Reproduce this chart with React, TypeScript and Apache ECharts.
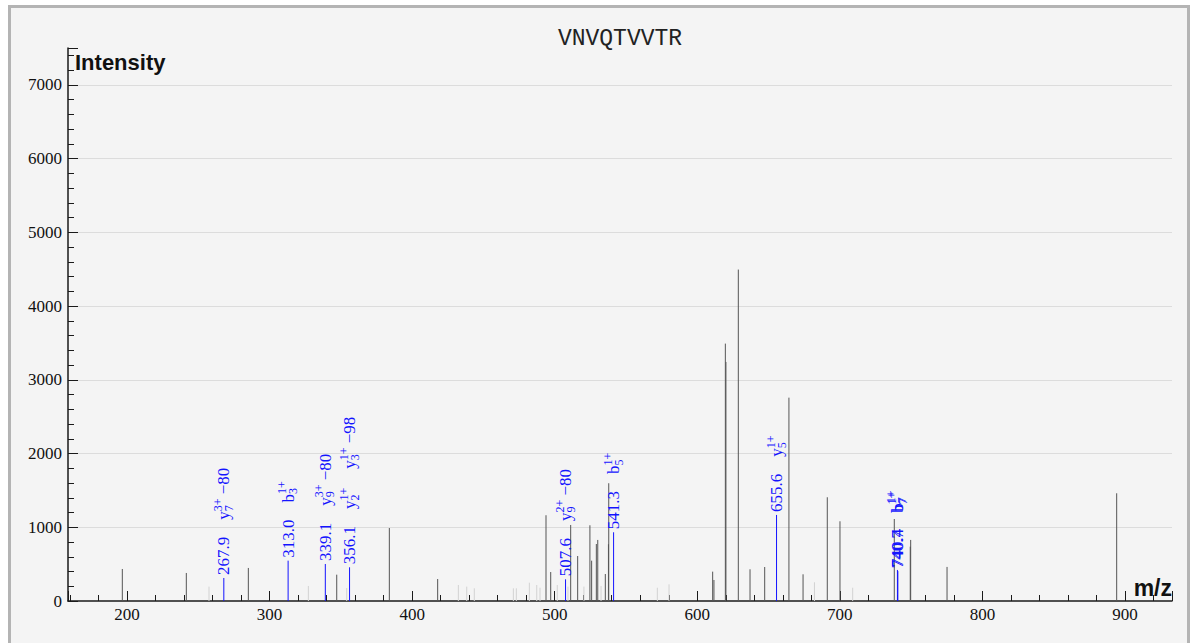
import React, { useEffect, useRef } from "react";
import * as echarts from "echarts";

const peptide = "VNVQTVVTR";
const yAxisName = "Intensity";
const xAxisName = "m/z";

// unannotated peaks (dark grey)
const peakMz = [196.7, 241.6, 285.1, 347.1, 384.0, 417.9, 493.9, 497.2, 511.2, 516.1, 524.7, 525.9, 529.2, 530.2, 535.5, 537.7, 537.9, 610.8, 611.7, 619.7, 620.1, 628.8, 637.0, 647.3, 664.3, 674.2, 691.2, 700.1, 738.2, 749.4, 749.7, 775.2, 894.2];
const peakInt = [434, 380, 448, 357, 990, 298, 1163, 393, 1031, 610, 1027, 547, 773, 828, 366, 770, 1597, 398, 285, 3491, 3242, 4495, 430, 461, 2758, 362, 1407, 1081, 1112, 737, 828, 462, 1461];

// faint peaks (light grey)
const faintMz = [257.5, 327.2, 354.1, 432.4, 438.3, 443.6, 471.0, 473.1, 482.2, 487.4, 489.7, 501.8, 509.3, 520.5, 532.5, 572.0, 580.2, 682.2, 709.0];
const faintInt = [195, 204, 176, 217, 195, 172, 172, 172, 248, 217, 180, 217, 195, 195, 204, 180, 226, 254, 180];

// annotated peaks (blue)
const annMz = [267.9, 313.0, 339.1, 356.1, 507.6, 541.3, 655.6, 740.4, 740.7];
const annInt = [312, 547, 502, 457, 294, 932, 1167, 421, 405];
const annText = ["267.9", "313.0", "339.1", "356.1", "507.6", "541.3", "655.6", "740.4", "740.7"];
const annIons = [
  ["y_7^3+ \u221280"],
  ["b_3^1+"],
  ["y_9^3+ \u221280"],
  ["y_2^1+", "y_3^1+ \u221298"],
  ["y_9^2+ \u221280"],
  ["b_5^1+"],
  ["y_5^1+"],
  ["b_7^1+"],
  ["b_7^1+"],
];

const BLUE = "#1414ff";
const GREY = "#555555";
const FAINT = "#d2d2d2";
const SERIF = "'Liberation Serif', 'Times New Roman', serif";
const BASE_FONT = `17px ${SERIF}`;
const SMALL_FONT = `12px ${SERIF}`;

let measureCtx: CanvasRenderingContext2D | null = null;
function tw(text: string, font: string): number {
  if (!measureCtx) measureCtx = document.createElement("canvas").getContext("2d");
  if (!measureCtx) return text.length * 8;
  measureCtx.font = font;
  return measureCtx.measureText(text).width;
}

function stick(color: string) {
  return (params: any, api: any) => {
    const top = api.coord([api.value(0), api.value(1)]);
    const base = api.coord([api.value(0), 0]);
    return {
      type: "line",
      shape: { x1: top[0], y1: base[1], x2: top[0], y2: top[1] },
      style: { stroke: color, lineWidth: 1 },
    };
  };
}

function annotated(params: any, api: any) {
  const i = params.dataIndex;
  const top = api.coord([api.value(0), api.value(1)]);
  const base = api.coord([api.value(0), 0]);
  const texts: any[] = [];
  let pos = 3;
  const num = annText[i];
  texts.push({
    type: "text",
    x: pos,
    y: 0,
    style: { text: num, font: BASE_FONT, fill: BLUE, align: "left", verticalAlign: "middle" },
  });
  pos += tw(num, BASE_FONT) + 17;
  annIons[i].forEach((ion, k) => {
    if (k > 0) pos += 19;
    const m = ion.match(/^([a-z]+)_(\d+)\^(\S+)(.*)$/);
    if (!m) return;
    const [, b, sub, sup, suffix] = m;
    texts.push({ type: "text", x: pos, y: 0, style: { text: b, font: BASE_FONT, fill: BLUE, align: "left", verticalAlign: "middle" } });
    pos += tw(b, BASE_FONT);
    texts.push({ type: "text", x: pos, y: -6, style: { text: sup, font: SMALL_FONT, fill: BLUE, align: "left", verticalAlign: "middle" } });
    texts.push({ type: "text", x: pos, y: 5, style: { text: sub, font: SMALL_FONT, fill: BLUE, align: "left", verticalAlign: "middle" } });
    pos += Math.max(tw(sup, SMALL_FONT), tw(sub, SMALL_FONT));
    if (suffix) {
      texts.push({ type: "text", x: pos, y: 0, style: { text: suffix, font: BASE_FONT, fill: BLUE, align: "left", verticalAlign: "middle" } });
      pos += tw(suffix, BASE_FONT);
    }
  });
  return {
    type: "group",
    children: [
      { type: "line", shape: { x1: top[0], y1: base[1], x2: top[0], y2: top[1] }, style: { stroke: BLUE, lineWidth: 1 } },
      { type: "group", x: top[0], y: top[1], rotation: Math.PI / 2, children: texts },
    ],
  };
}

export default function App() {
  const ref = useRef<HTMLDivElement>(null);
  useEffect(() => {
    if (!ref.current) return;
    const chart = echarts.init(ref.current, undefined, { renderer: "svg" });
    const axisText = { fontFamily: SERIF, fontSize: 17, color: "#111" };
    chart.setOption({
      animation: false,
      backgroundColor: "#f4f4f4",
      title: {
        text: peptide,
        left: 604,
        top: 14,
        textAlign: "center",
        textStyle: { fontFamily: "'Liberation Mono', 'Courier New', monospace", fontSize: 23, fontWeight: "normal", color: "#222" },
      },
      grid: { left: 57, right: 15, top: 40, bottom: 47 },
      xAxis: {
        type: "value",
        min: 158.6,
        max: 933,
        splitNumber: 8,
        axisLine: { show: true, lineStyle: { color: "#1a1a1a", width: 1.5 } },
        axisTick: { show: true, inside: true, length: 10, lineStyle: { color: "#1a1a1a" } },
        minorTick: { show: true, splitNumber: 5, length: 6, lineStyle: { color: "#1a1a1a" } },
        axisLabel: { ...axisText, margin: 5, showMinLabel: false, showMaxLabel: false, formatter: (v: number) => String(v) },
        splitLine: { show: false },
      },
      yAxis: {
        type: "value",
        min: 0,
        max: 7500,
        interval: 1000,
        axisLine: { show: true, lineStyle: { color: "#1a1a1a", width: 1.5 } },
        axisTick: { show: true, inside: true, length: 10, lineStyle: { color: "#1a1a1a" } },
        minorTick: { show: true, splitNumber: 5, length: 6, lineStyle: { color: "#1a1a1a" } },
        axisLabel: { ...axisText, margin: 6, showMaxLabel: false, formatter: (v: number) => String(v) },
        splitLine: { show: true, showMaxLine: false, showMinLine: false, lineStyle: { color: "#dcdcdc", width: 1 } },
      },
      graphic: [
        { type: "text", left: 64, top: 43, style: { text: yAxisName, font: "bold 22px 'Liberation Sans', Arial, sans-serif", fill: "#111" } },
        { type: "text", right: 15, top: 568, style: { text: xAxisName, font: "bold 23px 'Liberation Sans', Arial, sans-serif", fill: "#111" } },
      ],
      series: [
        { type: "custom", name: "faint", coordinateSystem: "cartesian2d", data: faintMz.map((m, i) => [m, faintInt[i]]), renderItem: stick(FAINT), z: 1 },
        { type: "custom", name: "peaks", coordinateSystem: "cartesian2d", data: peakMz.map((m, i) => [m, peakInt[i]]), renderItem: stick(GREY), z: 2 },
        { type: "custom", name: "annotated", coordinateSystem: "cartesian2d", data: annMz.map((m, i) => [m, annInt[i]]), renderItem: annotated, z: 3 },
      ],
    });
    return () => chart.dispose();
  }, []);
  return (
    <div style={{ position: "absolute", left: 8, top: 5, border: "3px solid #b4b4b4", background: "#f4f4f4" }}>
      <div ref={ref} style={{ width: 1176, height: 640 }} />
    </div>
  );
}
